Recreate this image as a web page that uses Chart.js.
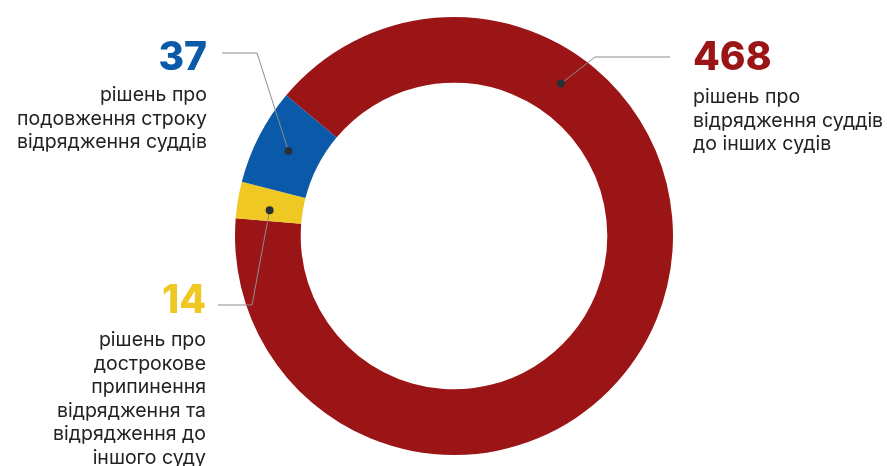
<!DOCTYPE html>
<html lang="uk">
<head>
<meta charset="utf-8">
<title>Рішення про відрядження суддів</title>
<script src="https://cdn.jsdelivr.net/npm/chart.js@4.4.1/dist/chart.umd.min.js"></script>
<style>
  html, body { margin: 0; padding: 0; background: #fff; }
  #chart { display: block; }
</style>
</head>
<body>
<canvas id="chart" width="887" height="466"></canvas>
<script>
// Data
const categories = [
    'відрядження суддів до інших судів',
    'дострокове припинення відрядження та відрядження до іншого суду',
    'подовження строку відрядження суддів'
];
const values = [468, 14, 37];
const captions = [
    ['рішень про', 'відрядження суддів', 'до інших судів'],
    ['рішень про', 'дострокове', 'припинення', 'відрядження та', 'відрядження до', 'іншого суду'],
    ['рішень про', 'подовження строку', 'відрядження суддів']
];
const sliceColors = ['#9b1517', '#f0c824', '#0a5aa9'];

// Callout layout: dot position along the slice, leader line elbow/end, label anchor
const callouts = [
    { along: 0.262, elbow: [595, 57], end: [670, 57], textX: 693, numY: 70, align: 'left', firstLine: 103 },
    { along: 0.34, elbow: [252, 305], end: [218, 305], textX: 206, numY: 313, align: 'right', firstLine: 346 },
    { along: 0.5, elbow: [257, 53], end: [222, 53], textX: 207, numY: 70, align: 'right', firstLine: 101 }
];
const lineGap = 23.6;

const calloutPlugin = {
    id: 'callouts',
    afterDatasetsDraw(chart) {
        const ctx = chart.ctx;
        const arcs = chart.getDatasetMeta(0).data;
        arcs.forEach((arc, i) => {
            const c = callouts[i];
            const p = arc.getProps(['x', 'y', 'startAngle', 'endAngle', 'innerRadius', 'outerRadius'], true);
            const a = p.startAngle + (p.endAngle - p.startAngle) * c.along;
            const r = (p.innerRadius + p.outerRadius) / 2;
            const dx = p.x + Math.cos(a) * r;
            const dy = p.y + Math.sin(a) * r;

            ctx.save();
            // leader line
            ctx.strokeStyle = '#8d8d8d';
            ctx.lineWidth = 1;
            ctx.beginPath();
            ctx.moveTo(dx, dy);
            ctx.lineTo(c.elbow[0], c.elbow[1]);
            ctx.lineTo(c.end[0], c.end[1]);
            ctx.stroke();

            // dot
            ctx.fillStyle = '#2a3038';
            ctx.beginPath();
            ctx.arc(dx, dy, 4, 0, Math.PI * 2);
            ctx.fill();

            // number
            ctx.textAlign = c.align;
            ctx.textBaseline = 'alphabetic';
            ctx.fillStyle = sliceColors[i];
            ctx.font = '800 39px Inter, "Open Sans", sans-serif';
            ctx.fillText(String(values[i]), c.textX, c.numY);

            // caption
            ctx.fillStyle = '#222222';
            ctx.font = '400 19.5px Inter, "Open Sans", sans-serif';
            captions[i].forEach((line, k) => {
                ctx.fillText(line, c.textX, c.firstLine + k * lineGap);
            });
            ctx.restore();
        });
    }
};

new Chart(document.getElementById('chart'), {
    type: 'doughnut',
    data: {
        labels: categories,
        datasets: [{
            data: values,
            backgroundColor: sliceColors,
            borderWidth: 0,
            hoverOffset: 0
        }]
    },
    options: {
        responsive: false,
        animation: false,
        cutout: '70%',
        rotation: -50,
        layout: { padding: { top: 17, bottom: 11, left: 21, right: 0 } },
        plugins: {
            legend: { display: false },
            tooltip: { enabled: false }
        },
        events: []
    },
    plugins: [calloutPlugin]
});
</script>
</body>
</html>
